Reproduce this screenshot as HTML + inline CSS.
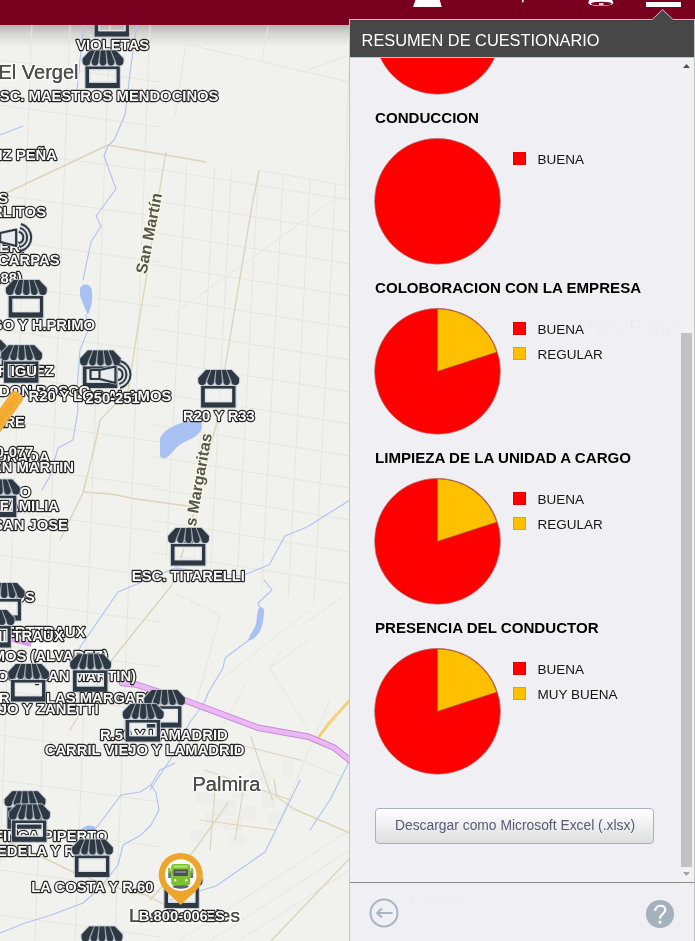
<!DOCTYPE html>
<html><head><meta charset="utf-8">
<style>
*{box-sizing:border-box;margin:0;padding:0}
html,body{width:695px;height:941px;overflow:hidden;background:#f1f1ed;font-family:"Liberation Sans",Arial,sans-serif}
#map,#topbar,#panel{will-change:transform}
#map{position:absolute;left:0;top:0;width:695px;height:941px;background:#f1f1ed;overflow:hidden}
#topbar{position:absolute;left:0;top:0;width:695px;height:25px;background:#7a001f}
#shadow{position:absolute;left:0;top:25px;width:349px;height:22px;background:linear-gradient(#b3b3af 0,#d6d6d2 40%,rgba(241,241,237,0) 100%)}
#panel{position:absolute;left:349px;top:19px;width:346px;height:922px;border:1px solid #b7cbce;border-bottom:none;background:#efeff4}
#phead{position:absolute;left:0;top:0;width:344px;height:37px;background:#474747;color:#fff;font-size:16.35px;line-height:38px;padding-left:11.6px;border-top:1px solid #3c3c3c}
#pline{position:absolute;left:0;top:37px;width:344px;height:1px;background:#b7cbce}
#pbody{position:absolute;left:0;top:38px;width:344px;height:824px;overflow:hidden;background:#efeff4}
#sb{position:absolute;left:329px;top:38px;width:15px;height:824px;background:#f1f1f1}
#thumb{position:absolute;left:2px;top:275px;width:11px;height:534px;background:#c1c1c1}
#sep{position:absolute;left:0;top:862px;width:344px;height:1px;background:#8c8c8c}
#foot{position:absolute;left:0;top:863px;width:344px;height:59px;background:#efeff4}
.sec{position:absolute;left:25px;width:300px}
.ttl{position:absolute;left:25px;font-weight:bold;font-size:15.1px;color:#000;white-space:nowrap;line-height:17px}
.lg{position:absolute;left:187.5px;font-size:13.5px;color:#151515;line-height:15px;white-space:nowrap}
.sq{position:absolute;left:-24.5px;top:0px;width:13px;height:13px;border:1px solid rgba(0,0,0,.12)}
#btn{position:absolute;left:25px;top:750px;width:279px;height:36px;border:1px solid #a6b2c4;border-radius:4px;background:linear-gradient(#ffffff,#dedede);color:#5a5a78;font-size:13.85px;line-height:33px;padding-left:19px;white-space:nowrap}
</style></head>
<body>
<div id="map">
<div id="shadow"></div>
<svg width="349" height="941" style="position:absolute;left:0;top:0"><filter id="soft" x="-5%" y="-5%" width="110%" height="110%"><feGaussianBlur stdDeviation="0.4"/></filter><g filter="url(#soft)"><path d="M186.668,165.0 L166.128,560.0" fill="none" stroke="#e6e6e0" stroke-width="1.0" stroke-linejoin="round" stroke-linecap="round" />
<path d="M214.49328,168.36 L193.6912,568.4" fill="none" stroke="#e6e6e0" stroke-width="1.0" stroke-linejoin="round" stroke-linecap="round" />
<path d="M231.3872,170.4 L210.426,573.5" fill="none" stroke="#e6e6e0" stroke-width="1.0" stroke-linejoin="round" stroke-linecap="round" />
<path d="M258.21872,173.64 L237.0048,581.6" fill="none" stroke="#e6e6e0" stroke-width="1.0" stroke-linejoin="round" stroke-linecap="round" />
<path d="M283.06272,176.64 L261.6148,589.1" fill="none" stroke="#e6e6e0" stroke-width="1.0" stroke-linejoin="round" stroke-linecap="round" />
<path d="M309.89424,179.88 L288.1936,597.2" fill="none" stroke="#e6e6e0" stroke-width="1.0" stroke-linejoin="round" stroke-linecap="round" />
<path d="M335.732,183.0 L313.788,605.0" fill="none" stroke="#e6e6e0" stroke-width="1.0" stroke-linejoin="round" stroke-linecap="round" />
<path d="M150,168 L350,200" fill="none" stroke="#e6e6e0" stroke-width="1.0" stroke-linejoin="round" stroke-linecap="round" />
<path d="M150,200 L350,232" fill="none" stroke="#e6e6e0" stroke-width="1.0" stroke-linejoin="round" stroke-linecap="round" />
<path d="M150,232 L350,264" fill="none" stroke="#e6e6e0" stroke-width="1.0" stroke-linejoin="round" stroke-linecap="round" />
<path d="M150,264 L350,296" fill="none" stroke="#e6e6e0" stroke-width="1.0" stroke-linejoin="round" stroke-linecap="round" />
<path d="M150,296 L350,328" fill="none" stroke="#e6e6e0" stroke-width="1.0" stroke-linejoin="round" stroke-linecap="round" />
<path d="M150,328 L350,360" fill="none" stroke="#e6e6e0" stroke-width="1.0" stroke-linejoin="round" stroke-linecap="round" />
<path d="M150,360 L350,392" fill="none" stroke="#e6e6e0" stroke-width="1.0" stroke-linejoin="round" stroke-linecap="round" />
<path d="M150,392 L350,424" fill="none" stroke="#e6e6e0" stroke-width="1.0" stroke-linejoin="round" stroke-linecap="round" />
<path d="M150,424 L350,456" fill="none" stroke="#e6e6e0" stroke-width="1.0" stroke-linejoin="round" stroke-linecap="round" />
<path d="M150,456 L350,488" fill="none" stroke="#e6e6e0" stroke-width="1.0" stroke-linejoin="round" stroke-linecap="round" />
<path d="M150,488 L350,520" fill="none" stroke="#e6e6e0" stroke-width="1.0" stroke-linejoin="round" stroke-linecap="round" />
<path d="M150,520 L350,552" fill="none" stroke="#e6e6e0" stroke-width="1.0" stroke-linejoin="round" stroke-linecap="round" />
<path d="M150,552 L350,584" fill="none" stroke="#e6e6e0" stroke-width="1.0" stroke-linejoin="round" stroke-linecap="round" />
<path d="M175,593 L220,615" fill="none" stroke="#e6e6e0" stroke-width="1.0" stroke-linejoin="round" stroke-linecap="round" />
<path d="M220,615 L197,700" fill="none" stroke="#e6e6e0" stroke-width="1.0" stroke-linejoin="round" stroke-linecap="round" />
<path d="M270,668 L308,640" fill="none" stroke="#e6e6e0" stroke-width="1.0" stroke-linejoin="round" stroke-linecap="round" />
<path d="M270,668 L282,650" fill="none" stroke="#e6e6e0" stroke-width="1.0" stroke-linejoin="round" stroke-linecap="round" />
<path d="M305,623 L341,598" fill="none" stroke="#e6e6e0" stroke-width="1.0" stroke-linejoin="round" stroke-linecap="round" />
<path d="M270,668 L308,730" fill="none" stroke="#e6e6e0" stroke-width="1.0" stroke-linejoin="round" stroke-linecap="round" />
<path d="M245,685 L215,740" fill="none" stroke="#e6e6e0" stroke-width="1.0" stroke-linejoin="round" stroke-linecap="round" />
<path d="M300,760 L350,780" fill="none" stroke="#e6e6e0" stroke-width="1.0" stroke-linejoin="round" stroke-linecap="round" />
<path d="M32,24 L-3,941" fill="none" stroke="#e6e6e0" stroke-width="1.0" stroke-linejoin="round" stroke-linecap="round" />
<path d="M70,24 L35,941" fill="none" stroke="#e6e6e0" stroke-width="1.0" stroke-linejoin="round" stroke-linecap="round" />
<path d="M110,24 L75,941" fill="none" stroke="#e6e6e0" stroke-width="1.0" stroke-linejoin="round" stroke-linecap="round" />
<path d="M150,24 L115,941" fill="none" stroke="#e6e6e0" stroke-width="1.0" stroke-linejoin="round" stroke-linecap="round" />
<path d="M0,60 L160,82" fill="none" stroke="#e6e6e0" stroke-width="1.0" stroke-linejoin="round" stroke-linecap="round" />
<path d="M0,105 L160,127" fill="none" stroke="#e6e6e0" stroke-width="1.0" stroke-linejoin="round" stroke-linecap="round" />
<path d="M0,150 L160,172" fill="none" stroke="#e6e6e0" stroke-width="1.0" stroke-linejoin="round" stroke-linecap="round" />
<path d="M0,195 L160,217" fill="none" stroke="#e6e6e0" stroke-width="1.0" stroke-linejoin="round" stroke-linecap="round" />
<path d="M0,240 L160,262" fill="none" stroke="#e6e6e0" stroke-width="1.0" stroke-linejoin="round" stroke-linecap="round" />
<path d="M0,285 L160,307" fill="none" stroke="#e6e6e0" stroke-width="1.0" stroke-linejoin="round" stroke-linecap="round" />
<path d="M0,330 L160,352" fill="none" stroke="#e6e6e0" stroke-width="1.0" stroke-linejoin="round" stroke-linecap="round" />
<path d="M0,375 L160,397" fill="none" stroke="#e6e6e0" stroke-width="1.0" stroke-linejoin="round" stroke-linecap="round" />
<path d="M0,420 L160,442" fill="none" stroke="#e6e6e0" stroke-width="1.0" stroke-linejoin="round" stroke-linecap="round" />
<path d="M0,465 L160,487" fill="none" stroke="#e6e6e0" stroke-width="1.0" stroke-linejoin="round" stroke-linecap="round" />
<path d="M0,510 L160,532" fill="none" stroke="#e6e6e0" stroke-width="1.0" stroke-linejoin="round" stroke-linecap="round" />
<path d="M0,555 L160,577" fill="none" stroke="#e6e6e0" stroke-width="1.0" stroke-linejoin="round" stroke-linecap="round" />
<path d="M0,600 L160,622" fill="none" stroke="#e6e6e0" stroke-width="1.0" stroke-linejoin="round" stroke-linecap="round" />
<path d="M0,645 L160,667" fill="none" stroke="#e6e6e0" stroke-width="1.0" stroke-linejoin="round" stroke-linecap="round" />
<path d="M0,690 L160,712" fill="none" stroke="#e6e6e0" stroke-width="1.0" stroke-linejoin="round" stroke-linecap="round" />
<path d="M0,735 L160,757" fill="none" stroke="#e6e6e0" stroke-width="1.0" stroke-linejoin="round" stroke-linecap="round" />
<path d="M0,780 L160,802" fill="none" stroke="#e6e6e0" stroke-width="1.0" stroke-linejoin="round" stroke-linecap="round" />
<path d="M0,825 L160,847" fill="none" stroke="#e6e6e0" stroke-width="1.0" stroke-linejoin="round" stroke-linecap="round" />
<path d="M0,870 L160,892" fill="none" stroke="#e6e6e0" stroke-width="1.0" stroke-linejoin="round" stroke-linecap="round" />
<path d="M0,915 L160,937" fill="none" stroke="#e6e6e0" stroke-width="1.0" stroke-linejoin="round" stroke-linecap="round" />
<path d="M186,44 L276,65 L349,82" fill="none" stroke="#e6e6e0" stroke-width="1.0" stroke-linejoin="round" stroke-linecap="round" />
<path d="M268,27 L262,60" fill="none" stroke="#e6e6e0" stroke-width="1.0" stroke-linejoin="round" stroke-linecap="round" />
<path d="M303,72 L349,55" fill="none" stroke="#e6e6e0" stroke-width="1.0" stroke-linejoin="round" stroke-linecap="round" />
<path d="M186,44 L175,116" fill="none" stroke="#e6e6e0" stroke-width="1.0" stroke-linejoin="round" stroke-linecap="round" />
<path d="M259,170 L336,184 L350,186" fill="none" stroke="#e6e6e0" stroke-width="1.0" stroke-linejoin="round" stroke-linecap="round" />
<path d="M349,60 L345,200" fill="none" stroke="#e6e6e0" stroke-width="1.0" stroke-linejoin="round" stroke-linecap="round" />
<path d="M333,200 L175,313" fill="none" stroke="#e6e6e0" stroke-width="1.0" stroke-linejoin="round" stroke-linecap="round" />
<path d="M220,680 L310,610" fill="none" stroke="#e6e6e0" stroke-width="1.0" stroke-linejoin="round" stroke-linecap="round" />
<path d="M280,820 L330,700" fill="none" stroke="#e6e6e0" stroke-width="1.0" stroke-linejoin="round" stroke-linecap="round" />
<path d="M240,940 L350,870" fill="none" stroke="#e6e6e0" stroke-width="1.0" stroke-linejoin="round" stroke-linecap="round" />
<path d="M180,940 L350,830" fill="none" stroke="#e6e6e0" stroke-width="1.0" stroke-linejoin="round" stroke-linecap="round" />
<path d="M210,941 L350,850" fill="none" stroke="#e6e6e0" stroke-width="1.0" stroke-linejoin="round" stroke-linecap="round" />
<path d="M0,196 L108,145 L206,162" fill="none" stroke="#ddd4ba" stroke-width="1.4" stroke-linejoin="round" stroke-linecap="round" />
<path d="M259,171 L253,200 L225,368 L218,385" fill="none" stroke="#ddd4ba" stroke-width="1.4" stroke-linejoin="round" stroke-linecap="round" />
<path d="M217,422 L188,536 L172,585 L111,661 L88,700 L70,730" fill="none" stroke="#ddd4ba" stroke-width="1.4" stroke-linejoin="round" stroke-linecap="round" />
<path d="M166,152 L158,200 L146,280 L137,333 L128,391 L100,420 L96,440 L83,493 L60,540" fill="none" stroke="#ddd4ba" stroke-width="1.4" stroke-linejoin="round" stroke-linecap="round" />
<path d="M83,492 L111,494 L136,499 L195,507" fill="none" stroke="#ddd4ba" stroke-width="1.4" stroke-linejoin="round" stroke-linecap="round" />
<path d="M274,780 L277,797 L294,809 L350,833" fill="none" stroke="#ddd4ba" stroke-width="1.4" stroke-linejoin="round" stroke-linecap="round" />
<path d="M228,803 L193,852 L150,900" fill="none" stroke="#ddd4ba" stroke-width="1.4" stroke-linejoin="round" stroke-linecap="round" />
<path d="M350,858 L271,941" fill="none" stroke="#ddd4ba" stroke-width="1.4" stroke-linejoin="round" stroke-linecap="round" />
<path d="M0,838 L38,855 L75,873 L110,886 L146,895 L165,905" fill="none" stroke="#ddd4ba" stroke-width="1.4" stroke-linejoin="round" stroke-linecap="round" />
<rect x="196" y="792" width="18" height="12" fill="#e2e2de" opacity=".25"/>
<rect x="214" y="800" width="22" height="16" fill="#e2e2de" opacity=".25"/>
<rect x="232" y="788" width="14" height="10" fill="#e2e2de" opacity=".25"/>
<rect x="205" y="812" width="16" height="14" fill="#e2e2de" opacity=".25"/>
<rect x="222" y="818" width="20" height="12" fill="#e2e2de" opacity=".25"/>
<rect x="240" y="806" width="16" height="14" fill="#e2e2de" opacity=".25"/>
<rect x="250" y="770" width="20" height="14" fill="#e2e2de" opacity=".25"/>
<rect x="262" y="790" width="14" height="18" fill="#e2e2de" opacity=".25"/>
<rect x="190" y="830" width="14" height="12" fill="#e2e2de" opacity=".25"/>
<rect x="230" y="835" width="16" height="10" fill="#e2e2de" opacity=".25"/>
<rect x="268" y="812" width="16" height="12" fill="#e2e2de" opacity=".25"/>
<rect x="282" y="760" width="12" height="16" fill="#e2e2de" opacity=".25"/>
<path d="M251,737 L262,770 L272.6,800" fill="none" stroke="#ddd4ba" stroke-width="1.2" stroke-linejoin="round" stroke-linecap="round" />
<path d="M240,745 L300,760" fill="none" stroke="#ddd4ba" stroke-width="1.2" stroke-linejoin="round" stroke-linecap="round" />
<path d="M205,770 L290,800" fill="none" stroke="#ddd4ba" stroke-width="1.2" stroke-linejoin="round" stroke-linecap="round" />
<path d="M215,790 L210,850" fill="none" stroke="#ddd4ba" stroke-width="1.2" stroke-linejoin="round" stroke-linecap="round" />
<path d="M245,780 L235,840" fill="none" stroke="#ddd4ba" stroke-width="1.2" stroke-linejoin="round" stroke-linecap="round" />
<path d="M200,820 L275,830" fill="none" stroke="#ddd4ba" stroke-width="1.2" stroke-linejoin="round" stroke-linecap="round" />
<path d="M315,742 L330,722 L350,700" fill="none" stroke="#f3d27a" stroke-width="3" stroke-linejoin="round" stroke-linecap="round" />
<path d="M137,24 L131,65 L125,115 L114,140 L108,146 L104,156 L116,189 L96,216 L101,226 L91,242 L83,280" fill="none" stroke="#afc4f2" stroke-width="1.15" stroke-linejoin="round" stroke-linecap="round" />
<path d="M86,315 L88,330 L80,350 L77,390 L78,410 L73,440 L58,448 L50,476 L42,490" fill="none" stroke="#afc4f2" stroke-width="1.15" stroke-linejoin="round" stroke-linecap="round" />
<path d="M84,24 L80,60 L76,100" fill="none" stroke="#afc4f2" stroke-width="1.15" stroke-linejoin="round" stroke-linecap="round" />
<path d="M0,135 L23,126" fill="none" stroke="#afc4f2" stroke-width="1.15" stroke-linejoin="round" stroke-linecap="round" />
<path d="M350,500 L307,527 L285,536 L269,565 L241,576 L175,568 L118,592 L83,643 L70,663" fill="none" stroke="#afc4f2" stroke-width="1.15" stroke-linejoin="round" stroke-linecap="round" />
<path d="M264,580 L272,590 L258,603 L260,608" fill="none" stroke="#afc4f2" stroke-width="1.15" stroke-linejoin="round" stroke-linecap="round" />
<path d="M249,640 L225,658 L223,668 L208,693 L205,701 L197,713 L190,722 L170,760 L150,790" fill="none" stroke="#afc4f2" stroke-width="1.15" stroke-linejoin="round" stroke-linecap="round" />
<path d="M300,780 L265,852 L216,886 L170,900" fill="none" stroke="#afc4f2" stroke-width="1.15" stroke-linejoin="round" stroke-linecap="round" />
<path d="M350,760 L330,800 L310,830" fill="none" stroke="#afc4f2" stroke-width="1.15" stroke-linejoin="round" stroke-linecap="round" />
<path d="M175,763 L160,770 L151,785 L140,792 L121,795 L106,815 L96,828" fill="none" stroke="#afc4f2" stroke-width="1.15" stroke-linejoin="round" stroke-linecap="round" />
<path d="M151,785 L156,793 L159,810 L151,825 L141,835 L123,845 L118,865 L100,888 L83,903 L50,915.5 L25,923 L0,933" fill="none" stroke="#afc4f2" stroke-width="1.15" stroke-linejoin="round" stroke-linecap="round" />
<path d="M80,288 C84,282 92,284 92,292 C93,300 91,308 88,315 C85,310 83,302 80,296 Z" fill="#a9c1f2"/>
<path d="M160,438 C165,428 178,424 190,420 C200,416 205,425 200,432 C194,440 184,440 176,448 C170,455 164,462 160,456 Z" fill="#a9c1f2"/>
<path d="M259,608 C262,606 265,608 264,614 C263,622 262,630 258,634 C255,638 251,641 248,640 C250,634 254,630 256,624 C257,618 257,612 259,608 Z" fill="#a9c1f2"/>
<path d="M81,830 C84,825 92,824 96,828 C94,832 88,834 82,834 Z" fill="#a9c1f2"/>
<path d="M14,640 L30,644" fill="none" stroke="#d9a0e6" stroke-width="5" stroke-linejoin="round" stroke-linecap="round" />
<path d="M122,683 L136,684.5 L186,700.7 L258,727.7 L308.6,736.7 L333.8,747.5 L352,762" fill="none" stroke="#c98ad8" stroke-width="6.5" stroke-linejoin="round" stroke-linecap="round" />
<path d="M122,683 L136,684.5 L186,700.7 L258,727.7 L308.6,736.7 L333.8,747.5 L352,762" fill="none" stroke="#ebb8f5" stroke-width="4.5" stroke-linejoin="round" stroke-linecap="round" />
<text x="-1.5" y="79" text-anchor="start" font-family="Liberation Sans, Arial, sans-serif" font-size="20" fill="#4d4d4d" stroke="#fff" stroke-width="3.2" stroke-opacity=".8" paint-order="stroke" stroke-linejoin="round">El Vergel</text><text x="-1.5" y="79" text-anchor="start" font-family="Liberation Sans, Arial, sans-serif" font-size="20" fill="#4d4d4d" stroke="#4d4d4d" stroke-width=".12">El Vergel</text>
<text x="192.5" y="790.5" text-anchor="start" font-family="Liberation Sans, Arial, sans-serif" font-size="20" fill="#4d4d4d" stroke="#fff" stroke-width="3.2" stroke-opacity=".8" paint-order="stroke" stroke-linejoin="round">Palmira</text><text x="192.5" y="790.5" text-anchor="start" font-family="Liberation Sans, Arial, sans-serif" font-size="20" fill="#4d4d4d" stroke="#4d4d4d" stroke-width=".12">Palmira</text>
<text x="0" y="0" transform="translate(146.5,274.5) rotate(-79)" font-family="Liberation Sans, Arial, sans-serif" font-size="16" font-weight="bold" fill="#575650" stroke="#fafae6" stroke-width="2.6" stroke-opacity=".9" paint-order="stroke" stroke-linejoin="round">San Martín</text>
<text x="0" y="0" transform="translate(192.4,545.5) rotate(-80)" font-family="Liberation Sans, Arial, sans-serif" font-size="16" font-weight="bold" fill="#575650" stroke="#fafae6" stroke-width="2.6" stroke-opacity=".9" paint-order="stroke" stroke-linejoin="round">Las Margaritas</text>
<text x="129" y="921.5" text-anchor="start" font-family="Liberation Sans, Arial, sans-serif" font-size="19" fill="#4d4d4d" stroke="#fff" stroke-width="3.2" stroke-opacity=".8" paint-order="stroke" stroke-linejoin="round">Los Barriales</text><text x="129" y="921.5" text-anchor="start" font-family="Liberation Sans, Arial, sans-serif" font-size="19" fill="#4d4d4d" stroke="#4d4d4d" stroke-width=".12">Los Barriales</text>
<rect x="31" y="643" width="27" height="8" fill="#fff"/>
<path d="M99.45,-1.00 L124.95,-1.00 L132.55,6.90 L132.55,10.00 L132.55,10.00 A4.15,4.00 0 0 1 124.25,10.00 L124.25,10.00 A4.02,4.00 0 0 1 116.20,10.00 L116.20,10.00 A4.00,4.00 0 0 1 108.20,10.00 L108.20,10.00 A4.03,4.00 0 0 1 100.15,10.00 L100.15,10.00 A4.15,4.00 0 0 1 91.85,10.00 L91.85,6.90 ZM94.65,15.10 L128.95,15.10 L128.95,36.40 L94.65,36.40 Z M98.35,17.70 L98.35,31.30 L125.65,31.30 L125.65,17.70 Z" fill="none" stroke="#b9c3cd" stroke-opacity=".8" stroke-width="2.2" stroke-linejoin="round"/><path d="M99.45,-1.00 L124.95,-1.00 L132.55,6.90 L132.55,10.00 L132.55,10.00 A4.15,4.00 0 0 1 124.25,10.00 L124.25,10.00 A4.02,4.00 0 0 1 116.20,10.00 L116.20,10.00 A4.00,4.00 0 0 1 108.20,10.00 L108.20,10.00 A4.03,4.00 0 0 1 100.15,10.00 L100.15,10.00 A4.15,4.00 0 0 1 91.85,10.00 L91.85,6.90 Z" fill="#9aa6b2"/><path d="M99.45,-1.00 L104.00,-1.00 L99.35,10.00 A3.75,4.00 0 0 1 91.85,10.00 L91.85,6.90 Z M104.90,-1.00 L109.00,-1.00 L107.40,10.00 A3.22,4.00 0 0 1 100.95,10.00 Z M109.90,-1.00 L114.50,-1.00 L115.40,10.00 A3.20,4.00 0 0 1 109.00,10.00 Z M115.40,-1.00 L119.50,-1.00 L123.45,10.00 A3.22,4.00 0 0 1 117.00,10.00 Z M120.40,-1.00 L124.95,-1.00 L132.55,6.90 L132.55,10.00 A3.75,4.00 0 0 1 125.05,10.00 Z " fill="#2e3742"/><path d="M94.65,15.10 L128.95,15.10 L128.95,36.40 L94.65,36.40 Z M98.35,17.70 L98.35,31.30 L125.65,31.30 L125.65,17.70 Z" fill="#2e3742" fill-rule="evenodd"/><path d="M99.05,18.40 L99.05,30.60 L124.95,30.60 L124.95,18.40 Z" fill="none" stroke="#dfe5ea" stroke-width="1.2"/>
<text x="112.6" y="50" text-anchor="middle" font-family="Liberation Sans, Arial, sans-serif" font-weight="bold" font-size="14.8" fill="#fafafa" stroke="#242424" stroke-width="2.3" paint-order="stroke" stroke-linejoin="round">VIOLETAS</text>
<path d="M90.25,50.50 L115.75,50.50 L123.35,58.40 L123.35,61.50 L123.35,61.50 A4.15,4.00 0 0 1 115.05,61.50 L115.05,61.50 A4.02,4.00 0 0 1 107.00,61.50 L107.00,61.50 A4.00,4.00 0 0 1 99.00,61.50 L99.00,61.50 A4.03,4.00 0 0 1 90.95,61.50 L90.95,61.50 A4.15,4.00 0 0 1 82.65,61.50 L82.65,58.40 ZM85.45,66.60 L119.75,66.60 L119.75,87.90 L85.45,87.90 Z M89.15,69.20 L89.15,82.80 L116.45,82.80 L116.45,69.20 Z" fill="none" stroke="#b9c3cd" stroke-opacity=".8" stroke-width="2.2" stroke-linejoin="round"/><path d="M90.25,50.50 L115.75,50.50 L123.35,58.40 L123.35,61.50 L123.35,61.50 A4.15,4.00 0 0 1 115.05,61.50 L115.05,61.50 A4.02,4.00 0 0 1 107.00,61.50 L107.00,61.50 A4.00,4.00 0 0 1 99.00,61.50 L99.00,61.50 A4.03,4.00 0 0 1 90.95,61.50 L90.95,61.50 A4.15,4.00 0 0 1 82.65,61.50 L82.65,58.40 Z" fill="#9aa6b2"/><path d="M90.25,50.50 L94.80,50.50 L90.15,61.50 A3.75,4.00 0 0 1 82.65,61.50 L82.65,58.40 Z M95.70,50.50 L99.80,50.50 L98.20,61.50 A3.22,4.00 0 0 1 91.75,61.50 Z M100.70,50.50 L105.30,50.50 L106.20,61.50 A3.20,4.00 0 0 1 99.80,61.50 Z M106.20,50.50 L110.30,50.50 L114.25,61.50 A3.22,4.00 0 0 1 107.80,61.50 Z M111.20,50.50 L115.75,50.50 L123.35,58.40 L123.35,61.50 A3.75,4.00 0 0 1 115.85,61.50 Z " fill="#2e3742"/><path d="M85.45,66.60 L119.75,66.60 L119.75,87.90 L85.45,87.90 Z M89.15,69.20 L89.15,82.80 L116.45,82.80 L116.45,69.20 Z" fill="#2e3742" fill-rule="evenodd"/><path d="M89.85,69.90 L89.85,82.10 L115.75,82.10 L115.75,69.90 Z" fill="none" stroke="#dfe5ea" stroke-width="1.2"/>
<text x="218.5" y="101.2" text-anchor="end" font-family="Liberation Sans, Arial, sans-serif" font-weight="bold" font-size="14.8" fill="#fafafa" stroke="#242424" stroke-width="2.3" paint-order="stroke" stroke-linejoin="round">ESC. MAESTROS MENDOCINOS</text>
<text x="57" y="160" text-anchor="end" font-family="Liberation Sans, Arial, sans-serif" font-weight="bold" font-size="14.8" fill="#fafafa" stroke="#242424" stroke-width="2.3" paint-order="stroke" stroke-linejoin="round">RUIZ PEÑA</text>
<text x="8" y="203" text-anchor="end" font-family="Liberation Sans, Arial, sans-serif" font-weight="bold" font-size="14.8" fill="#fafafa" stroke="#242424" stroke-width="2.3" paint-order="stroke" stroke-linejoin="round">ELS</text>
<text x="46" y="217.3" text-anchor="end" font-family="Liberation Sans, Arial, sans-serif" font-weight="bold" font-size="14.8" fill="#fafafa" stroke="#242424" stroke-width="2.3" paint-order="stroke" stroke-linejoin="round">CARLITOS</text>
<text x="24" y="252" text-anchor="end" font-family="Liberation Sans, Arial, sans-serif" font-weight="bold" font-size="14.8" fill="#fafafa" stroke="#242424" stroke-width="2.3" paint-order="stroke" stroke-linejoin="round">ER.</text>
<path d="M-8.8,233.0 H0.2 L16.2,229.5 V246.0 L0.2,242.0 H-8.8 Z" fill="#e9ecef" stroke="#cfd6dc" stroke-width="3.2" stroke-linejoin="round"/><path d="M-8.8,233.0 H0.2 L16.2,229.5 V246.0 L0.2,242.0 H-8.8 Z M0.2,233.0 V242.0" fill="none" stroke="#2e3742" stroke-width="2.2" stroke-linejoin="round"/><path d="M18.8,231.7 A6.0,6.0 0 0 1 18.8,243.3" fill="none" stroke="#cfd6dc" stroke-width="3.4"/><path d="M18.8,231.7 A6.0,6.0 0 0 1 18.8,243.3" fill="none" stroke="#2e3742" stroke-width="2"/><path d="M19.9,227.9 A10.0,10.0 0 0 1 19.9,247.1" fill="none" stroke="#cfd6dc" stroke-width="3.4"/><path d="M19.9,227.9 A10.0,10.0 0 0 1 19.9,247.1" fill="none" stroke="#2e3742" stroke-width="2"/><path d="M20.9,224.0 A14.0,14.0 0 0 1 20.9,251.0" fill="none" stroke="#cfd6dc" stroke-width="3.4"/><path d="M20.9,224.0 A14.0,14.0 0 0 1 20.9,251.0" fill="none" stroke="#2e3742" stroke-width="2"/>
<text x="59.5" y="265.4" text-anchor="end" font-family="Liberation Sans, Arial, sans-serif" font-weight="bold" font-size="14.8" fill="#fafafa" stroke="#242424" stroke-width="2.3" paint-order="stroke" stroke-linejoin="round">LAS CARPAS</text>
<text x="22" y="283" text-anchor="end" font-family="Liberation Sans, Arial, sans-serif" font-weight="bold" font-size="14.8" fill="#fafafa" stroke="#242424" stroke-width="2.3" paint-order="stroke" stroke-linejoin="round">(188)</text>
<path d="M13.55,280.00 L39.05,280.00 L46.65,287.90 L46.65,291.00 L46.65,291.00 A4.15,4.00 0 0 1 38.35,291.00 L38.35,291.00 A4.02,4.00 0 0 1 30.30,291.00 L30.30,291.00 A4.00,4.00 0 0 1 22.30,291.00 L22.30,291.00 A4.03,4.00 0 0 1 14.25,291.00 L14.25,291.00 A4.15,4.00 0 0 1 5.95,291.00 L5.95,287.90 ZM8.75,296.10 L43.05,296.10 L43.05,317.40 L8.75,317.40 Z M12.45,298.70 L12.45,312.30 L39.75,312.30 L39.75,298.70 Z" fill="none" stroke="#b9c3cd" stroke-opacity=".8" stroke-width="2.2" stroke-linejoin="round"/><path d="M13.55,280.00 L39.05,280.00 L46.65,287.90 L46.65,291.00 L46.65,291.00 A4.15,4.00 0 0 1 38.35,291.00 L38.35,291.00 A4.02,4.00 0 0 1 30.30,291.00 L30.30,291.00 A4.00,4.00 0 0 1 22.30,291.00 L22.30,291.00 A4.03,4.00 0 0 1 14.25,291.00 L14.25,291.00 A4.15,4.00 0 0 1 5.95,291.00 L5.95,287.90 Z" fill="#9aa6b2"/><path d="M13.55,280.00 L18.10,280.00 L13.45,291.00 A3.75,4.00 0 0 1 5.95,291.00 L5.95,287.90 Z M19.00,280.00 L23.10,280.00 L21.50,291.00 A3.22,4.00 0 0 1 15.05,291.00 Z M24.00,280.00 L28.60,280.00 L29.50,291.00 A3.20,4.00 0 0 1 23.10,291.00 Z M29.50,280.00 L33.60,280.00 L37.55,291.00 A3.22,4.00 0 0 1 31.10,291.00 Z M34.50,280.00 L39.05,280.00 L46.65,287.90 L46.65,291.00 A3.75,4.00 0 0 1 39.15,291.00 Z " fill="#2e3742"/><path d="M8.75,296.10 L43.05,296.10 L43.05,317.40 L8.75,317.40 Z M12.45,298.70 L12.45,312.30 L39.75,312.30 L39.75,298.70 Z" fill="#2e3742" fill-rule="evenodd"/><path d="M13.15,299.40 L13.15,311.60 L39.05,311.60 L39.05,299.40 Z" fill="none" stroke="#dfe5ea" stroke-width="1.2"/>
<text x="95" y="330" text-anchor="end" font-family="Liberation Sans, Arial, sans-serif" font-weight="bold" font-size="14.8" fill="#fafafa" stroke="#242424" stroke-width="2.3" paint-order="stroke" stroke-linejoin="round">DIEGO Y H.PRIMO</text>
<path d="M-24.75,340.00 L0.75,340.00 L8.35,347.90 L8.35,351.00 L8.35,351.00 A4.15,4.00 0 0 1 0.05,351.00 L0.05,351.00 A4.02,4.00 0 0 1 -8.00,351.00 L-8.00,351.00 A4.00,4.00 0 0 1 -16.00,351.00 L-16.00,351.00 A4.03,4.00 0 0 1 -24.05,351.00 L-24.05,351.00 A4.15,4.00 0 0 1 -32.35,351.00 L-32.35,347.90 ZM-29.55,356.10 L4.75,356.10 L4.75,377.40 L-29.55,377.40 Z M-25.85,358.70 L-25.85,372.30 L1.45,372.30 L1.45,358.70 Z" fill="none" stroke="#b9c3cd" stroke-opacity=".8" stroke-width="2.2" stroke-linejoin="round"/><path d="M-24.75,340.00 L0.75,340.00 L8.35,347.90 L8.35,351.00 L8.35,351.00 A4.15,4.00 0 0 1 0.05,351.00 L0.05,351.00 A4.02,4.00 0 0 1 -8.00,351.00 L-8.00,351.00 A4.00,4.00 0 0 1 -16.00,351.00 L-16.00,351.00 A4.03,4.00 0 0 1 -24.05,351.00 L-24.05,351.00 A4.15,4.00 0 0 1 -32.35,351.00 L-32.35,347.90 Z" fill="#9aa6b2"/><path d="M-24.75,340.00 L-20.20,340.00 L-24.85,351.00 A3.75,4.00 0 0 1 -32.35,351.00 L-32.35,347.90 Z M-19.30,340.00 L-15.20,340.00 L-16.80,351.00 A3.22,4.00 0 0 1 -23.25,351.00 Z M-14.30,340.00 L-9.70,340.00 L-8.80,351.00 A3.20,4.00 0 0 1 -15.20,351.00 Z M-8.80,340.00 L-4.70,340.00 L-0.75,351.00 A3.22,4.00 0 0 1 -7.20,351.00 Z M-3.80,340.00 L0.75,340.00 L8.35,347.90 L8.35,351.00 A3.75,4.00 0 0 1 0.85,351.00 Z " fill="#2e3742"/><path d="M-29.55,356.10 L4.75,356.10 L4.75,377.40 L-29.55,377.40 Z M-25.85,358.70 L-25.85,372.30 L1.45,372.30 L1.45,358.70 Z" fill="#2e3742" fill-rule="evenodd"/><path d="M-25.15,359.40 L-25.15,371.60 L0.75,371.60 L0.75,359.40 Z" fill="none" stroke="#dfe5ea" stroke-width="1.2"/>
<text x="54" y="375.5" text-anchor="end" font-family="Liberation Sans, Arial, sans-serif" font-weight="bold" font-size="14.8" fill="#fafafa" stroke="#242424" stroke-width="2.3" paint-order="stroke" stroke-linejoin="round">RODRIGUEZ</text>
<path d="M8.85,345.30 L34.35,345.30 L41.95,353.20 L41.95,356.30 L41.95,356.30 A4.15,4.00 0 0 1 33.65,356.30 L33.65,356.30 A4.02,4.00 0 0 1 25.60,356.30 L25.60,356.30 A4.00,4.00 0 0 1 17.60,356.30 L17.60,356.30 A4.03,4.00 0 0 1 9.55,356.30 L9.55,356.30 A4.15,4.00 0 0 1 1.25,356.30 L1.25,353.20 ZM4.05,361.40 L38.35,361.40 L38.35,382.70 L4.05,382.70 Z M7.75,364.00 L7.75,377.60 L35.05,377.60 L35.05,364.00 Z" fill="none" stroke="#b9c3cd" stroke-opacity=".8" stroke-width="2.2" stroke-linejoin="round"/><path d="M8.85,345.30 L34.35,345.30 L41.95,353.20 L41.95,356.30 L41.95,356.30 A4.15,4.00 0 0 1 33.65,356.30 L33.65,356.30 A4.02,4.00 0 0 1 25.60,356.30 L25.60,356.30 A4.00,4.00 0 0 1 17.60,356.30 L17.60,356.30 A4.03,4.00 0 0 1 9.55,356.30 L9.55,356.30 A4.15,4.00 0 0 1 1.25,356.30 L1.25,353.20 Z" fill="#9aa6b2"/><path d="M8.85,345.30 L13.40,345.30 L8.75,356.30 A3.75,4.00 0 0 1 1.25,356.30 L1.25,353.20 Z M14.30,345.30 L18.40,345.30 L16.80,356.30 A3.22,4.00 0 0 1 10.35,356.30 Z M19.30,345.30 L23.90,345.30 L24.80,356.30 A3.20,4.00 0 0 1 18.40,356.30 Z M24.80,345.30 L28.90,345.30 L32.85,356.30 A3.22,4.00 0 0 1 26.40,356.30 Z M29.80,345.30 L34.35,345.30 L41.95,353.20 L41.95,356.30 A3.75,4.00 0 0 1 34.45,356.30 Z " fill="#2e3742"/><path d="M4.05,361.40 L38.35,361.40 L38.35,382.70 L4.05,382.70 Z M7.75,364.00 L7.75,377.60 L35.05,377.60 L35.05,364.00 Z" fill="#2e3742" fill-rule="evenodd"/><path d="M8.45,364.70 L8.45,376.90 L34.35,376.90 L34.35,364.70 Z" fill="none" stroke="#dfe5ea" stroke-width="1.2"/>
<text x="37" y="375.5" text-anchor="end" font-family="Liberation Sans, Arial, sans-serif" font-weight="bold" font-size="14.8" fill="#fafafa" stroke="#242424" stroke-width="2.3" paint-order="stroke" stroke-linejoin="round">IGU</text>
<path d="M87.75,350.50 L113.25,350.50 L120.85,358.40 L120.85,361.50 L120.85,361.50 A4.15,4.00 0 0 1 112.55,361.50 L112.55,361.50 A4.02,4.00 0 0 1 104.50,361.50 L104.50,361.50 A4.00,4.00 0 0 1 96.50,361.50 L96.50,361.50 A4.03,4.00 0 0 1 88.45,361.50 L88.45,361.50 A4.15,4.00 0 0 1 80.15,361.50 L80.15,358.40 ZM82.95,366.60 L117.25,366.60 L117.25,387.90 L82.95,387.90 Z M86.65,369.20 L86.65,382.80 L113.95,382.80 L113.95,369.20 Z" fill="none" stroke="#b9c3cd" stroke-opacity=".8" stroke-width="2.2" stroke-linejoin="round"/><path d="M87.75,350.50 L113.25,350.50 L120.85,358.40 L120.85,361.50 L120.85,361.50 A4.15,4.00 0 0 1 112.55,361.50 L112.55,361.50 A4.02,4.00 0 0 1 104.50,361.50 L104.50,361.50 A4.00,4.00 0 0 1 96.50,361.50 L96.50,361.50 A4.03,4.00 0 0 1 88.45,361.50 L88.45,361.50 A4.15,4.00 0 0 1 80.15,361.50 L80.15,358.40 Z" fill="#9aa6b2"/><path d="M87.75,350.50 L92.30,350.50 L87.65,361.50 A3.75,4.00 0 0 1 80.15,361.50 L80.15,358.40 Z M93.20,350.50 L97.30,350.50 L95.70,361.50 A3.22,4.00 0 0 1 89.25,361.50 Z M98.20,350.50 L102.80,350.50 L103.70,361.50 A3.20,4.00 0 0 1 97.30,361.50 Z M103.70,350.50 L107.80,350.50 L111.75,361.50 A3.22,4.00 0 0 1 105.30,361.50 Z M108.70,350.50 L113.25,350.50 L120.85,358.40 L120.85,361.50 A3.75,4.00 0 0 1 113.35,361.50 Z " fill="#2e3742"/><path d="M82.95,366.60 L117.25,366.60 L117.25,387.90 L82.95,387.90 Z M86.65,369.20 L86.65,382.80 L113.95,382.80 L113.95,369.20 Z" fill="#2e3742" fill-rule="evenodd"/><path d="M87.35,369.90 L87.35,382.10 L113.25,382.10 L113.25,369.90 Z" fill="none" stroke="#dfe5ea" stroke-width="1.2"/>
<path d="M90.5,370.0 H99.5 L115.5,366.5 V383.0 L99.5,379.0 H90.5 Z" fill="#e9ecef" stroke="#cfd6dc" stroke-width="3.2" stroke-linejoin="round"/><path d="M90.5,370.0 H99.5 L115.5,366.5 V383.0 L99.5,379.0 H90.5 Z M99.5,370.0 V379.0" fill="none" stroke="#2e3742" stroke-width="2.2" stroke-linejoin="round"/><path d="M118.1,368.7 A6.0,6.0 0 0 1 118.1,380.3" fill="none" stroke="#cfd6dc" stroke-width="3.4"/><path d="M118.1,368.7 A6.0,6.0 0 0 1 118.1,380.3" fill="none" stroke="#2e3742" stroke-width="2"/><path d="M119.2,364.9 A10.0,10.0 0 0 1 119.2,384.1" fill="none" stroke="#cfd6dc" stroke-width="3.4"/><path d="M119.2,364.9 A10.0,10.0 0 0 1 119.2,384.1" fill="none" stroke="#2e3742" stroke-width="2"/><path d="M120.2,361.0 A14.0,14.0 0 0 1 120.2,388.0" fill="none" stroke="#cfd6dc" stroke-width="3.4"/><path d="M120.2,361.0 A14.0,14.0 0 0 1 120.2,388.0" fill="none" stroke="#2e3742" stroke-width="2"/>
<text x="-1" y="395.5" text-anchor="start" font-family="Liberation Sans, Arial, sans-serif" font-weight="bold" font-size="14.8" fill="#fafafa" stroke="#242424" stroke-width="2.3" paint-order="stroke" stroke-linejoin="round">DON BOSCO</text>
<text x="28.5" y="401" text-anchor="start" font-family="Liberation Sans, Arial, sans-serif" font-weight="bold" font-size="14.8" fill="#fafafa" stroke="#242424" stroke-width="2.3" paint-order="stroke" stroke-linejoin="round">R20 Y LOS ALAMOS</text>
<text x="85.5" y="402.5" text-anchor="start" font-family="Liberation Sans, Arial, sans-serif" font-weight="bold" font-size="14.8" fill="#fafafa" stroke="#242424" stroke-width="2.3" paint-order="stroke" stroke-linejoin="round">250-251</text>
<path d="M205.95,370.00 L231.45,370.00 L239.05,377.90 L239.05,381.00 L239.05,381.00 A4.15,4.00 0 0 1 230.75,381.00 L230.75,381.00 A4.02,4.00 0 0 1 222.70,381.00 L222.70,381.00 A4.00,4.00 0 0 1 214.70,381.00 L214.70,381.00 A4.03,4.00 0 0 1 206.65,381.00 L206.65,381.00 A4.15,4.00 0 0 1 198.35,381.00 L198.35,377.90 ZM201.15,386.10 L235.45,386.10 L235.45,407.40 L201.15,407.40 Z M204.85,388.70 L204.85,402.30 L232.15,402.30 L232.15,388.70 Z" fill="none" stroke="#b9c3cd" stroke-opacity=".8" stroke-width="2.2" stroke-linejoin="round"/><path d="M205.95,370.00 L231.45,370.00 L239.05,377.90 L239.05,381.00 L239.05,381.00 A4.15,4.00 0 0 1 230.75,381.00 L230.75,381.00 A4.02,4.00 0 0 1 222.70,381.00 L222.70,381.00 A4.00,4.00 0 0 1 214.70,381.00 L214.70,381.00 A4.03,4.00 0 0 1 206.65,381.00 L206.65,381.00 A4.15,4.00 0 0 1 198.35,381.00 L198.35,377.90 Z" fill="#9aa6b2"/><path d="M205.95,370.00 L210.50,370.00 L205.85,381.00 A3.75,4.00 0 0 1 198.35,381.00 L198.35,377.90 Z M211.40,370.00 L215.50,370.00 L213.90,381.00 A3.22,4.00 0 0 1 207.45,381.00 Z M216.40,370.00 L221.00,370.00 L221.90,381.00 A3.20,4.00 0 0 1 215.50,381.00 Z M221.90,370.00 L226.00,370.00 L229.95,381.00 A3.22,4.00 0 0 1 223.50,381.00 Z M226.90,370.00 L231.45,370.00 L239.05,377.90 L239.05,381.00 A3.75,4.00 0 0 1 231.55,381.00 Z " fill="#2e3742"/><path d="M201.15,386.10 L235.45,386.10 L235.45,407.40 L201.15,407.40 Z M204.85,388.70 L204.85,402.30 L232.15,402.30 L232.15,388.70 Z" fill="#2e3742" fill-rule="evenodd"/><path d="M205.55,389.40 L205.55,401.60 L231.45,401.60 L231.45,389.40 Z" fill="none" stroke="#dfe5ea" stroke-width="1.2"/>
<text x="218.9" y="421" text-anchor="middle" font-family="Liberation Sans, Arial, sans-serif" font-weight="bold" font-size="14.8" fill="#fafafa" stroke="#242424" stroke-width="2.3" paint-order="stroke" stroke-linejoin="round">R20 Y R33</text>
<text x="25" y="426.5" text-anchor="end" font-family="Liberation Sans, Arial, sans-serif" font-weight="bold" font-size="14.8" fill="#fafafa" stroke="#242424" stroke-width="2.3" paint-order="stroke" stroke-linejoin="round">TORRE</text>
<g transform="translate(18.6,394.2) rotate(125.5)"><rect x="-1" y="-6.9" width="60" height="13.8" rx="4.5" fill="#f2a92f"/><rect x="1.5" y="-4.6" width="60" height="9.2" rx="3" fill="none" stroke="#fff" stroke-width=".6" stroke-dasharray="1.5 2" stroke-opacity=".7"/></g>
<text x="49.6" y="462" text-anchor="end" font-family="Liberation Sans, Arial, sans-serif" font-weight="bold" font-size="14.8" fill="#fafafa" stroke="#242424" stroke-width="2.3" paint-order="stroke" stroke-linejoin="round">LA ALBORADA</text>
<text x="33.5" y="457" text-anchor="end" font-family="Liberation Sans, Arial, sans-serif" font-weight="bold" font-size="14.8" fill="#fafafa" stroke="#242424" stroke-width="2.3" paint-order="stroke" stroke-linejoin="round">B.100-077</text>
<text x="74" y="472.2" text-anchor="end" font-family="Liberation Sans, Arial, sans-serif" font-weight="bold" font-size="14.8" fill="#fafafa" stroke="#242424" stroke-width="2.3" paint-order="stroke" stroke-linejoin="round">CARMEN MARTIN</text>
<text x="31" y="497" text-anchor="end" font-family="Liberation Sans, Arial, sans-serif" font-weight="bold" font-size="14.8" fill="#fafafa" stroke="#242424" stroke-width="2.3" paint-order="stroke" stroke-linejoin="round">O</text>
<text x="59" y="511" text-anchor="end" font-family="Liberation Sans, Arial, sans-serif" font-weight="bold" font-size="14.8" fill="#fafafa" stroke="#242424" stroke-width="2.3" paint-order="stroke" stroke-linejoin="round">SAGRADA FAMILIA</text>
<path d="M-13.25,479.60 L12.25,479.60 L19.85,487.50 L19.85,490.60 L19.85,490.60 A4.15,4.00 0 0 1 11.55,490.60 L11.55,490.60 A4.02,4.00 0 0 1 3.50,490.60 L3.50,490.60 A4.00,4.00 0 0 1 -4.50,490.60 L-4.50,490.60 A4.03,4.00 0 0 1 -12.55,490.60 L-12.55,490.60 A4.15,4.00 0 0 1 -20.85,490.60 L-20.85,487.50 ZM-18.05,495.70 L16.25,495.70 L16.25,517.00 L-18.05,517.00 Z M-14.35,498.30 L-14.35,511.90 L12.95,511.90 L12.95,498.30 Z" fill="none" stroke="#b9c3cd" stroke-opacity=".8" stroke-width="2.2" stroke-linejoin="round"/><path d="M-13.25,479.60 L12.25,479.60 L19.85,487.50 L19.85,490.60 L19.85,490.60 A4.15,4.00 0 0 1 11.55,490.60 L11.55,490.60 A4.02,4.00 0 0 1 3.50,490.60 L3.50,490.60 A4.00,4.00 0 0 1 -4.50,490.60 L-4.50,490.60 A4.03,4.00 0 0 1 -12.55,490.60 L-12.55,490.60 A4.15,4.00 0 0 1 -20.85,490.60 L-20.85,487.50 Z" fill="#9aa6b2"/><path d="M-13.25,479.60 L-8.70,479.60 L-13.35,490.60 A3.75,4.00 0 0 1 -20.85,490.60 L-20.85,487.50 Z M-7.80,479.60 L-3.70,479.60 L-5.30,490.60 A3.22,4.00 0 0 1 -11.75,490.60 Z M-2.80,479.60 L1.80,479.60 L2.70,490.60 A3.20,4.00 0 0 1 -3.70,490.60 Z M2.70,479.60 L6.80,479.60 L10.75,490.60 A3.22,4.00 0 0 1 4.30,490.60 Z M7.70,479.60 L12.25,479.60 L19.85,487.50 L19.85,490.60 A3.75,4.00 0 0 1 12.35,490.60 Z " fill="#2e3742"/><path d="M-18.05,495.70 L16.25,495.70 L16.25,517.00 L-18.05,517.00 Z M-14.35,498.30 L-14.35,511.90 L12.95,511.90 L12.95,498.30 Z" fill="#2e3742" fill-rule="evenodd"/><path d="M-13.65,499.00 L-13.65,511.20 L12.25,511.20 L12.25,499.00 Z" fill="none" stroke="#dfe5ea" stroke-width="1.2"/>
<text x="68" y="530.4" text-anchor="end" font-family="Liberation Sans, Arial, sans-serif" font-weight="bold" font-size="14.8" fill="#fafafa" stroke="#242424" stroke-width="2.3" paint-order="stroke" stroke-linejoin="round">SAN JOSE</text>
<path d="M175.75,528.00 L201.25,528.00 L208.85,535.90 L208.85,539.00 L208.85,539.00 A4.15,4.00 0 0 1 200.55,539.00 L200.55,539.00 A4.02,4.00 0 0 1 192.50,539.00 L192.50,539.00 A4.00,4.00 0 0 1 184.50,539.00 L184.50,539.00 A4.03,4.00 0 0 1 176.45,539.00 L176.45,539.00 A4.15,4.00 0 0 1 168.15,539.00 L168.15,535.90 ZM170.95,544.10 L205.25,544.10 L205.25,565.40 L170.95,565.40 Z M174.65,546.70 L174.65,560.30 L201.95,560.30 L201.95,546.70 Z" fill="none" stroke="#b9c3cd" stroke-opacity=".8" stroke-width="2.2" stroke-linejoin="round"/><path d="M175.75,528.00 L201.25,528.00 L208.85,535.90 L208.85,539.00 L208.85,539.00 A4.15,4.00 0 0 1 200.55,539.00 L200.55,539.00 A4.02,4.00 0 0 1 192.50,539.00 L192.50,539.00 A4.00,4.00 0 0 1 184.50,539.00 L184.50,539.00 A4.03,4.00 0 0 1 176.45,539.00 L176.45,539.00 A4.15,4.00 0 0 1 168.15,539.00 L168.15,535.90 Z" fill="#9aa6b2"/><path d="M175.75,528.00 L180.30,528.00 L175.65,539.00 A3.75,4.00 0 0 1 168.15,539.00 L168.15,535.90 Z M181.20,528.00 L185.30,528.00 L183.70,539.00 A3.22,4.00 0 0 1 177.25,539.00 Z M186.20,528.00 L190.80,528.00 L191.70,539.00 A3.20,4.00 0 0 1 185.30,539.00 Z M191.70,528.00 L195.80,528.00 L199.75,539.00 A3.22,4.00 0 0 1 193.30,539.00 Z M196.70,528.00 L201.25,528.00 L208.85,535.90 L208.85,539.00 A3.75,4.00 0 0 1 201.35,539.00 Z " fill="#2e3742"/><path d="M170.95,544.10 L205.25,544.10 L205.25,565.40 L170.95,565.40 Z M174.65,546.70 L174.65,560.30 L201.95,560.30 L201.95,546.70 Z" fill="#2e3742" fill-rule="evenodd"/><path d="M175.35,547.40 L175.35,559.60 L201.25,559.60 L201.25,547.40 Z" fill="none" stroke="#dfe5ea" stroke-width="1.2"/>
<text x="188.4" y="580.5" text-anchor="middle" font-family="Liberation Sans, Arial, sans-serif" font-weight="bold" font-size="14.8" fill="#fafafa" stroke="#242424" stroke-width="2.3" paint-order="stroke" stroke-linejoin="round">ESC. TITARELLI</text>
<text x="35" y="602" text-anchor="end" font-family="Liberation Sans, Arial, sans-serif" font-weight="bold" font-size="14.8" fill="#fafafa" stroke="#242424" stroke-width="2.3" paint-order="stroke" stroke-linejoin="round">OS</text>
<path d="M-8.55,583.00 L16.95,583.00 L24.55,590.90 L24.55,594.00 L24.55,594.00 A4.15,4.00 0 0 1 16.25,594.00 L16.25,594.00 A4.02,4.00 0 0 1 8.20,594.00 L8.20,594.00 A4.00,4.00 0 0 1 0.20,594.00 L0.20,594.00 A4.03,4.00 0 0 1 -7.85,594.00 L-7.85,594.00 A4.15,4.00 0 0 1 -16.15,594.00 L-16.15,590.90 ZM-13.35,599.10 L20.95,599.10 L20.95,620.40 L-13.35,620.40 Z M-9.65,601.70 L-9.65,615.30 L17.65,615.30 L17.65,601.70 Z" fill="none" stroke="#b9c3cd" stroke-opacity=".8" stroke-width="2.2" stroke-linejoin="round"/><path d="M-8.55,583.00 L16.95,583.00 L24.55,590.90 L24.55,594.00 L24.55,594.00 A4.15,4.00 0 0 1 16.25,594.00 L16.25,594.00 A4.02,4.00 0 0 1 8.20,594.00 L8.20,594.00 A4.00,4.00 0 0 1 0.20,594.00 L0.20,594.00 A4.03,4.00 0 0 1 -7.85,594.00 L-7.85,594.00 A4.15,4.00 0 0 1 -16.15,594.00 L-16.15,590.90 Z" fill="#9aa6b2"/><path d="M-8.55,583.00 L-4.00,583.00 L-8.65,594.00 A3.75,4.00 0 0 1 -16.15,594.00 L-16.15,590.90 Z M-3.10,583.00 L1.00,583.00 L-0.60,594.00 A3.22,4.00 0 0 1 -7.05,594.00 Z M1.90,583.00 L6.50,583.00 L7.40,594.00 A3.20,4.00 0 0 1 1.00,594.00 Z M7.40,583.00 L11.50,583.00 L15.45,594.00 A3.22,4.00 0 0 1 9.00,594.00 Z M12.40,583.00 L16.95,583.00 L24.55,590.90 L24.55,594.00 A3.75,4.00 0 0 1 17.05,594.00 Z " fill="#2e3742"/><path d="M-13.35,599.10 L20.95,599.10 L20.95,620.40 L-13.35,620.40 Z M-9.65,601.70 L-9.65,615.30 L17.65,615.30 L17.65,601.70 Z" fill="#2e3742" fill-rule="evenodd"/><path d="M-8.95,602.40 L-8.95,614.60 L16.95,614.60 L16.95,602.40 Z" fill="none" stroke="#dfe5ea" stroke-width="1.2"/>
<text x="85.5" y="636.6" text-anchor="end" font-family="Liberation Sans, Arial, sans-serif" font-weight="bold" font-size="14.8" fill="#fafafa" stroke="#242424" stroke-width="2.3" paint-order="stroke" stroke-linejoin="round">ALBERTTRAUX</text>
<text x="6.5" y="641" text-anchor="end" font-family="Liberation Sans, Arial, sans-serif" font-weight="bold" font-size="14.8" fill="#fafafa" stroke="#242424" stroke-width="2.3" paint-order="stroke" stroke-linejoin="round">MI</text>
<text x="63.5" y="641" text-anchor="end" font-family="Liberation Sans, Arial, sans-serif" font-weight="bold" font-size="14.8" fill="#fafafa" stroke="#242424" stroke-width="2.3" paint-order="stroke" stroke-linejoin="round">TRAUX</text>
<path d="M-18.75,610.00 L6.75,610.00 L14.35,617.90 L14.35,621.00 L14.35,621.00 A4.15,4.00 0 0 1 6.05,621.00 L6.05,621.00 A4.02,4.00 0 0 1 -2.00,621.00 L-2.00,621.00 A4.00,4.00 0 0 1 -10.00,621.00 L-10.00,621.00 A4.03,4.00 0 0 1 -18.05,621.00 L-18.05,621.00 A4.15,4.00 0 0 1 -26.35,621.00 L-26.35,617.90 ZM-23.55,626.10 L10.75,626.10 L10.75,647.40 L-23.55,647.40 Z M-19.85,628.70 L-19.85,642.30 L7.45,642.30 L7.45,628.70 Z" fill="none" stroke="#b9c3cd" stroke-opacity=".8" stroke-width="2.2" stroke-linejoin="round"/><path d="M-18.75,610.00 L6.75,610.00 L14.35,617.90 L14.35,621.00 L14.35,621.00 A4.15,4.00 0 0 1 6.05,621.00 L6.05,621.00 A4.02,4.00 0 0 1 -2.00,621.00 L-2.00,621.00 A4.00,4.00 0 0 1 -10.00,621.00 L-10.00,621.00 A4.03,4.00 0 0 1 -18.05,621.00 L-18.05,621.00 A4.15,4.00 0 0 1 -26.35,621.00 L-26.35,617.90 Z" fill="#9aa6b2"/><path d="M-18.75,610.00 L-14.20,610.00 L-18.85,621.00 A3.75,4.00 0 0 1 -26.35,621.00 L-26.35,617.90 Z M-13.30,610.00 L-9.20,610.00 L-10.80,621.00 A3.22,4.00 0 0 1 -17.25,621.00 Z M-8.30,610.00 L-3.70,610.00 L-2.80,621.00 A3.20,4.00 0 0 1 -9.20,621.00 Z M-2.80,610.00 L1.30,610.00 L5.25,621.00 A3.22,4.00 0 0 1 -1.20,621.00 Z M2.20,610.00 L6.75,610.00 L14.35,617.90 L14.35,621.00 A3.75,4.00 0 0 1 6.85,621.00 Z " fill="#2e3742"/><path d="M-23.55,626.10 L10.75,626.10 L10.75,647.40 L-23.55,647.40 Z M-19.85,628.70 L-19.85,642.30 L7.45,642.30 L7.45,628.70 Z" fill="#2e3742" fill-rule="evenodd"/><path d="M-19.15,629.40 L-19.15,641.60 L6.75,641.60 L6.75,629.40 Z" fill="none" stroke="#dfe5ea" stroke-width="1.2"/>
<text x="108" y="661" text-anchor="end" font-family="Liberation Sans, Arial, sans-serif" font-weight="bold" font-size="14.8" fill="#fafafa" stroke="#242424" stroke-width="2.3" paint-order="stroke" stroke-linejoin="round">RAMOS (ALVAREZ)</text>
<text x="136" y="681.4" text-anchor="end" font-family="Liberation Sans, Arial, sans-serif" font-weight="bold" font-size="14.8" fill="#fafafa" stroke="#242424" stroke-width="2.3" paint-order="stroke" stroke-linejoin="round">DOCA (SAN MARTIN)</text>
<path d="M77.85,654.30 L103.35,654.30 L110.95,662.20 L110.95,665.30 L110.95,665.30 A4.15,4.00 0 0 1 102.65,665.30 L102.65,665.30 A4.02,4.00 0 0 1 94.60,665.30 L94.60,665.30 A4.00,4.00 0 0 1 86.60,665.30 L86.60,665.30 A4.03,4.00 0 0 1 78.55,665.30 L78.55,665.30 A4.15,4.00 0 0 1 70.25,665.30 L70.25,662.20 ZM73.05,670.40 L107.35,670.40 L107.35,691.70 L73.05,691.70 Z M76.75,673.00 L76.75,686.60 L104.05,686.60 L104.05,673.00 Z" fill="none" stroke="#b9c3cd" stroke-opacity=".8" stroke-width="2.2" stroke-linejoin="round"/><path d="M77.85,654.30 L103.35,654.30 L110.95,662.20 L110.95,665.30 L110.95,665.30 A4.15,4.00 0 0 1 102.65,665.30 L102.65,665.30 A4.02,4.00 0 0 1 94.60,665.30 L94.60,665.30 A4.00,4.00 0 0 1 86.60,665.30 L86.60,665.30 A4.03,4.00 0 0 1 78.55,665.30 L78.55,665.30 A4.15,4.00 0 0 1 70.25,665.30 L70.25,662.20 Z" fill="#9aa6b2"/><path d="M77.85,654.30 L82.40,654.30 L77.75,665.30 A3.75,4.00 0 0 1 70.25,665.30 L70.25,662.20 Z M83.30,654.30 L87.40,654.30 L85.80,665.30 A3.22,4.00 0 0 1 79.35,665.30 Z M88.30,654.30 L92.90,654.30 L93.80,665.30 A3.20,4.00 0 0 1 87.40,665.30 Z M93.80,654.30 L97.90,654.30 L101.85,665.30 A3.22,4.00 0 0 1 95.40,665.30 Z M98.80,654.30 L103.35,654.30 L110.95,662.20 L110.95,665.30 A3.75,4.00 0 0 1 103.45,665.30 Z " fill="#2e3742"/><path d="M73.05,670.40 L107.35,670.40 L107.35,691.70 L73.05,691.70 Z M76.75,673.00 L76.75,686.60 L104.05,686.60 L104.05,673.00 Z" fill="#2e3742" fill-rule="evenodd"/><path d="M77.45,673.70 L77.45,685.90 L103.35,685.90 L103.35,673.70 Z" fill="none" stroke="#dfe5ea" stroke-width="1.2"/>
<path d="M15.85,664.00 L41.35,664.00 L48.95,671.90 L48.95,675.00 L48.95,675.00 A4.15,4.00 0 0 1 40.65,675.00 L40.65,675.00 A4.02,4.00 0 0 1 32.60,675.00 L32.60,675.00 A4.00,4.00 0 0 1 24.60,675.00 L24.60,675.00 A4.03,4.00 0 0 1 16.55,675.00 L16.55,675.00 A4.15,4.00 0 0 1 8.25,675.00 L8.25,671.90 ZM11.05,680.10 L45.35,680.10 L45.35,701.40 L11.05,701.40 Z M14.75,682.70 L14.75,696.30 L42.05,696.30 L42.05,682.70 Z" fill="none" stroke="#b9c3cd" stroke-opacity=".8" stroke-width="2.2" stroke-linejoin="round"/><path d="M15.85,664.00 L41.35,664.00 L48.95,671.90 L48.95,675.00 L48.95,675.00 A4.15,4.00 0 0 1 40.65,675.00 L40.65,675.00 A4.02,4.00 0 0 1 32.60,675.00 L32.60,675.00 A4.00,4.00 0 0 1 24.60,675.00 L24.60,675.00 A4.03,4.00 0 0 1 16.55,675.00 L16.55,675.00 A4.15,4.00 0 0 1 8.25,675.00 L8.25,671.90 Z" fill="#9aa6b2"/><path d="M15.85,664.00 L20.40,664.00 L15.75,675.00 A3.75,4.00 0 0 1 8.25,675.00 L8.25,671.90 Z M21.30,664.00 L25.40,664.00 L23.80,675.00 A3.22,4.00 0 0 1 17.35,675.00 Z M26.30,664.00 L30.90,664.00 L31.80,675.00 A3.20,4.00 0 0 1 25.40,675.00 Z M31.80,664.00 L35.90,664.00 L39.85,675.00 A3.22,4.00 0 0 1 33.40,675.00 Z M36.80,664.00 L41.35,664.00 L48.95,671.90 L48.95,675.00 A3.75,4.00 0 0 1 41.45,675.00 Z " fill="#2e3742"/><path d="M11.05,680.10 L45.35,680.10 L45.35,701.40 L11.05,701.40 Z M14.75,682.70 L14.75,696.30 L42.05,696.30 L42.05,682.70 Z" fill="#2e3742" fill-rule="evenodd"/><path d="M15.45,683.40 L15.45,695.60 L41.35,695.60 L41.35,683.40 Z" fill="none" stroke="#dfe5ea" stroke-width="1.2"/>
<text x="-1" y="702.5" text-anchor="start" font-family="Liberation Sans, Arial, sans-serif" font-weight="bold" font-size="14.8" fill="#fafafa" stroke="#242424" stroke-width="2.3" paint-order="stroke" stroke-linejoin="round">R</text>
<text x="46" y="702.5" text-anchor="start" font-family="Liberation Sans, Arial, sans-serif" font-weight="bold" font-size="14.8" fill="#fafafa" stroke="#242424" stroke-width="2.3" paint-order="stroke" stroke-linejoin="round">LAS MARGARITAS</text>
<text x="98.5" y="713.8" text-anchor="end" font-family="Liberation Sans, Arial, sans-serif" font-weight="bold" font-size="14.8" fill="#fafafa" stroke="#242424" stroke-width="2.3" paint-order="stroke" stroke-linejoin="round">JO Y ZANETTI</text>
<path d="M151.85,690.10 L177.35,690.10 L184.95,698.00 L184.95,701.10 L184.95,701.10 A4.15,4.00 0 0 1 176.65,701.10 L176.65,701.10 A4.02,4.00 0 0 1 168.60,701.10 L168.60,701.10 A4.00,4.00 0 0 1 160.60,701.10 L160.60,701.10 A4.03,4.00 0 0 1 152.55,701.10 L152.55,701.10 A4.15,4.00 0 0 1 144.25,701.10 L144.25,698.00 ZM147.05,706.20 L181.35,706.20 L181.35,727.50 L147.05,727.50 Z M150.75,708.80 L150.75,722.40 L178.05,722.40 L178.05,708.80 Z" fill="none" stroke="#b9c3cd" stroke-opacity=".8" stroke-width="2.2" stroke-linejoin="round"/><path d="M151.85,690.10 L177.35,690.10 L184.95,698.00 L184.95,701.10 L184.95,701.10 A4.15,4.00 0 0 1 176.65,701.10 L176.65,701.10 A4.02,4.00 0 0 1 168.60,701.10 L168.60,701.10 A4.00,4.00 0 0 1 160.60,701.10 L160.60,701.10 A4.03,4.00 0 0 1 152.55,701.10 L152.55,701.10 A4.15,4.00 0 0 1 144.25,701.10 L144.25,698.00 Z" fill="#9aa6b2"/><path d="M151.85,690.10 L156.40,690.10 L151.75,701.10 A3.75,4.00 0 0 1 144.25,701.10 L144.25,698.00 Z M157.30,690.10 L161.40,690.10 L159.80,701.10 A3.22,4.00 0 0 1 153.35,701.10 Z M162.30,690.10 L166.90,690.10 L167.80,701.10 A3.20,4.00 0 0 1 161.40,701.10 Z M167.80,690.10 L171.90,690.10 L175.85,701.10 A3.22,4.00 0 0 1 169.40,701.10 Z M172.80,690.10 L177.35,690.10 L184.95,698.00 L184.95,701.10 A3.75,4.00 0 0 1 177.45,701.10 Z " fill="#2e3742"/><path d="M147.05,706.20 L181.35,706.20 L181.35,727.50 L147.05,727.50 Z M150.75,708.80 L150.75,722.40 L178.05,722.40 L178.05,708.80 Z" fill="#2e3742" fill-rule="evenodd"/><path d="M151.45,709.50 L151.45,721.70 L177.35,721.70 L177.35,709.50 Z" fill="none" stroke="#dfe5ea" stroke-width="1.2"/>
<text x="100" y="739.8" text-anchor="start" font-family="Liberation Sans, Arial, sans-serif" font-weight="bold" font-size="14.8" fill="#fafafa" stroke="#242424" stroke-width="2.3" paint-order="stroke" stroke-linejoin="round">R.50 Y LAMADRID</text>
<path d="M130.45,704.00 L155.95,704.00 L163.55,711.90 L163.55,715.00 L163.55,715.00 A4.15,4.00 0 0 1 155.25,715.00 L155.25,715.00 A4.02,4.00 0 0 1 147.20,715.00 L147.20,715.00 A4.00,4.00 0 0 1 139.20,715.00 L139.20,715.00 A4.03,4.00 0 0 1 131.15,715.00 L131.15,715.00 A4.15,4.00 0 0 1 122.85,715.00 L122.85,711.90 ZM125.65,720.10 L159.95,720.10 L159.95,741.40 L125.65,741.40 Z M129.35,722.70 L129.35,736.30 L156.65,736.30 L156.65,722.70 Z" fill="none" stroke="#b9c3cd" stroke-opacity=".8" stroke-width="2.2" stroke-linejoin="round"/><path d="M130.45,704.00 L155.95,704.00 L163.55,711.90 L163.55,715.00 L163.55,715.00 A4.15,4.00 0 0 1 155.25,715.00 L155.25,715.00 A4.02,4.00 0 0 1 147.20,715.00 L147.20,715.00 A4.00,4.00 0 0 1 139.20,715.00 L139.20,715.00 A4.03,4.00 0 0 1 131.15,715.00 L131.15,715.00 A4.15,4.00 0 0 1 122.85,715.00 L122.85,711.90 Z" fill="#9aa6b2"/><path d="M130.45,704.00 L135.00,704.00 L130.35,715.00 A3.75,4.00 0 0 1 122.85,715.00 L122.85,711.90 Z M135.90,704.00 L140.00,704.00 L138.40,715.00 A3.22,4.00 0 0 1 131.95,715.00 Z M140.90,704.00 L145.50,704.00 L146.40,715.00 A3.20,4.00 0 0 1 140.00,715.00 Z M146.40,704.00 L150.50,704.00 L154.45,715.00 A3.22,4.00 0 0 1 148.00,715.00 Z M151.40,704.00 L155.95,704.00 L163.55,711.90 L163.55,715.00 A3.75,4.00 0 0 1 156.05,715.00 Z " fill="#2e3742"/><path d="M125.65,720.10 L159.95,720.10 L159.95,741.40 L125.65,741.40 Z M129.35,722.70 L129.35,736.30 L156.65,736.30 L156.65,722.70 Z" fill="#2e3742" fill-rule="evenodd"/><path d="M130.05,723.40 L130.05,735.60 L155.95,735.60 L155.95,723.40 Z" fill="none" stroke="#dfe5ea" stroke-width="1.2"/>
<text x="244.5" y="754.5" text-anchor="end" font-family="Liberation Sans, Arial, sans-serif" font-weight="bold" font-size="14.8" fill="#fafafa" stroke="#242424" stroke-width="2.3" paint-order="stroke" stroke-linejoin="round">CARRIL VIEJO Y LAMADRID</text>
<text x="107.5" y="841.2" text-anchor="end" font-family="Liberation Sans, Arial, sans-serif" font-weight="bold" font-size="14.8" fill="#fafafa" stroke="#242424" stroke-width="2.3" paint-order="stroke" stroke-linejoin="round">FINCA PIPERTO</text>
<path d="M12.25,791.30 L37.75,791.30 L45.35,799.20 L45.35,802.30 L45.35,802.30 A4.15,4.00 0 0 1 37.05,802.30 L37.05,802.30 A4.02,4.00 0 0 1 29.00,802.30 L29.00,802.30 A4.00,4.00 0 0 1 21.00,802.30 L21.00,802.30 A4.03,4.00 0 0 1 12.95,802.30 L12.95,802.30 A4.15,4.00 0 0 1 4.65,802.30 L4.65,799.20 ZM7.45,807.40 L41.75,807.40 L41.75,828.70 L7.45,828.70 Z M11.15,810.00 L11.15,823.60 L38.45,823.60 L38.45,810.00 Z" fill="none" stroke="#b9c3cd" stroke-opacity=".8" stroke-width="2.2" stroke-linejoin="round"/><path d="M12.25,791.30 L37.75,791.30 L45.35,799.20 L45.35,802.30 L45.35,802.30 A4.15,4.00 0 0 1 37.05,802.30 L37.05,802.30 A4.02,4.00 0 0 1 29.00,802.30 L29.00,802.30 A4.00,4.00 0 0 1 21.00,802.30 L21.00,802.30 A4.03,4.00 0 0 1 12.95,802.30 L12.95,802.30 A4.15,4.00 0 0 1 4.65,802.30 L4.65,799.20 Z" fill="#9aa6b2"/><path d="M12.25,791.30 L16.80,791.30 L12.15,802.30 A3.75,4.00 0 0 1 4.65,802.30 L4.65,799.20 Z M17.70,791.30 L21.80,791.30 L20.20,802.30 A3.22,4.00 0 0 1 13.75,802.30 Z M22.70,791.30 L27.30,791.30 L28.20,802.30 A3.20,4.00 0 0 1 21.80,802.30 Z M28.20,791.30 L32.30,791.30 L36.25,802.30 A3.22,4.00 0 0 1 29.80,802.30 Z M33.20,791.30 L37.75,791.30 L45.35,799.20 L45.35,802.30 A3.75,4.00 0 0 1 37.85,802.30 Z " fill="#2e3742"/><path d="M7.45,807.40 L41.75,807.40 L41.75,828.70 L7.45,828.70 Z M11.15,810.00 L11.15,823.60 L38.45,823.60 L38.45,810.00 Z" fill="#2e3742" fill-rule="evenodd"/><path d="M11.85,810.70 L11.85,822.90 L37.75,822.90 L37.75,810.70 Z" fill="none" stroke="#dfe5ea" stroke-width="1.2"/>
<path d="M16.75,804.40 L42.25,804.40 L49.85,812.30 L49.85,815.40 L49.85,815.40 A4.15,4.00 0 0 1 41.55,815.40 L41.55,815.40 A4.02,4.00 0 0 1 33.50,815.40 L33.50,815.40 A4.00,4.00 0 0 1 25.50,815.40 L25.50,815.40 A4.03,4.00 0 0 1 17.45,815.40 L17.45,815.40 A4.15,4.00 0 0 1 9.15,815.40 L9.15,812.30 ZM11.95,820.50 L46.25,820.50 L46.25,841.80 L11.95,841.80 Z M15.65,823.10 L15.65,836.70 L42.95,836.70 L42.95,823.10 Z" fill="none" stroke="#b9c3cd" stroke-opacity=".8" stroke-width="2.2" stroke-linejoin="round"/><path d="M16.75,804.40 L42.25,804.40 L49.85,812.30 L49.85,815.40 L49.85,815.40 A4.15,4.00 0 0 1 41.55,815.40 L41.55,815.40 A4.02,4.00 0 0 1 33.50,815.40 L33.50,815.40 A4.00,4.00 0 0 1 25.50,815.40 L25.50,815.40 A4.03,4.00 0 0 1 17.45,815.40 L17.45,815.40 A4.15,4.00 0 0 1 9.15,815.40 L9.15,812.30 Z" fill="#9aa6b2"/><path d="M16.75,804.40 L21.30,804.40 L16.65,815.40 A3.75,4.00 0 0 1 9.15,815.40 L9.15,812.30 Z M22.20,804.40 L26.30,804.40 L24.70,815.40 A3.22,4.00 0 0 1 18.25,815.40 Z M27.20,804.40 L31.80,804.40 L32.70,815.40 A3.20,4.00 0 0 1 26.30,815.40 Z M32.70,804.40 L36.80,804.40 L40.75,815.40 A3.22,4.00 0 0 1 34.30,815.40 Z M37.70,804.40 L42.25,804.40 L49.85,812.30 L49.85,815.40 A3.75,4.00 0 0 1 42.35,815.40 Z " fill="#2e3742"/><path d="M11.95,820.50 L46.25,820.50 L46.25,841.80 L11.95,841.80 Z M15.65,823.10 L15.65,836.70 L42.95,836.70 L42.95,823.10 Z" fill="#2e3742" fill-rule="evenodd"/><path d="M16.35,823.80 L16.35,836.00 L42.25,836.00 L42.25,823.80 Z" fill="none" stroke="#dfe5ea" stroke-width="1.2"/>
<text x="-3" y="855.8" text-anchor="start" font-family="Liberation Sans, Arial, sans-serif" font-weight="bold" font-size="14.8" fill="#fafafa" stroke="#242424" stroke-width="2.3" paint-order="stroke" stroke-linejoin="round">EDELA Y R.60</text>
<path d="M79.75,839.60 L105.25,839.60 L112.85,847.50 L112.85,850.60 L112.85,850.60 A4.15,4.00 0 0 1 104.55,850.60 L104.55,850.60 A4.02,4.00 0 0 1 96.50,850.60 L96.50,850.60 A4.00,4.00 0 0 1 88.50,850.60 L88.50,850.60 A4.03,4.00 0 0 1 80.45,850.60 L80.45,850.60 A4.15,4.00 0 0 1 72.15,850.60 L72.15,847.50 ZM74.95,855.70 L109.25,855.70 L109.25,877.00 L74.95,877.00 Z M78.65,858.30 L78.65,871.90 L105.95,871.90 L105.95,858.30 Z" fill="none" stroke="#b9c3cd" stroke-opacity=".8" stroke-width="2.2" stroke-linejoin="round"/><path d="M79.75,839.60 L105.25,839.60 L112.85,847.50 L112.85,850.60 L112.85,850.60 A4.15,4.00 0 0 1 104.55,850.60 L104.55,850.60 A4.02,4.00 0 0 1 96.50,850.60 L96.50,850.60 A4.00,4.00 0 0 1 88.50,850.60 L88.50,850.60 A4.03,4.00 0 0 1 80.45,850.60 L80.45,850.60 A4.15,4.00 0 0 1 72.15,850.60 L72.15,847.50 Z" fill="#9aa6b2"/><path d="M79.75,839.60 L84.30,839.60 L79.65,850.60 A3.75,4.00 0 0 1 72.15,850.60 L72.15,847.50 Z M85.20,839.60 L89.30,839.60 L87.70,850.60 A3.22,4.00 0 0 1 81.25,850.60 Z M90.20,839.60 L94.80,839.60 L95.70,850.60 A3.20,4.00 0 0 1 89.30,850.60 Z M95.70,839.60 L99.80,839.60 L103.75,850.60 A3.22,4.00 0 0 1 97.30,850.60 Z M100.70,839.60 L105.25,839.60 L112.85,847.50 L112.85,850.60 A3.75,4.00 0 0 1 105.35,850.60 Z " fill="#2e3742"/><path d="M74.95,855.70 L109.25,855.70 L109.25,877.00 L74.95,877.00 Z M78.65,858.30 L78.65,871.90 L105.95,871.90 L105.95,858.30 Z" fill="#2e3742" fill-rule="evenodd"/><path d="M79.35,859.00 L79.35,871.20 L105.25,871.20 L105.25,859.00 Z" fill="none" stroke="#dfe5ea" stroke-width="1.2"/>
<text x="92.4" y="891.5" text-anchor="middle" font-family="Liberation Sans, Arial, sans-serif" font-weight="bold" font-size="14.8" fill="#fafafa" stroke="#242424" stroke-width="2.3" paint-order="stroke" stroke-linejoin="round">LA COSTA Y R.60</text>
<path d="M169.25,870.50 L194.75,870.50 L202.35,878.40 L202.35,881.50 L202.35,881.50 A4.15,4.00 0 0 1 194.05,881.50 L194.05,881.50 A4.02,4.00 0 0 1 186.00,881.50 L186.00,881.50 A4.00,4.00 0 0 1 178.00,881.50 L178.00,881.50 A4.03,4.00 0 0 1 169.95,881.50 L169.95,881.50 A4.15,4.00 0 0 1 161.65,881.50 L161.65,878.40 ZM164.45,886.60 L198.75,886.60 L198.75,907.90 L164.45,907.90 Z M168.15,889.20 L168.15,902.80 L195.45,902.80 L195.45,889.20 Z" fill="none" stroke="#b9c3cd" stroke-opacity=".8" stroke-width="2.2" stroke-linejoin="round"/><path d="M169.25,870.50 L194.75,870.50 L202.35,878.40 L202.35,881.50 L202.35,881.50 A4.15,4.00 0 0 1 194.05,881.50 L194.05,881.50 A4.02,4.00 0 0 1 186.00,881.50 L186.00,881.50 A4.00,4.00 0 0 1 178.00,881.50 L178.00,881.50 A4.03,4.00 0 0 1 169.95,881.50 L169.95,881.50 A4.15,4.00 0 0 1 161.65,881.50 L161.65,878.40 Z" fill="#9aa6b2"/><path d="M169.25,870.50 L173.80,870.50 L169.15,881.50 A3.75,4.00 0 0 1 161.65,881.50 L161.65,878.40 Z M174.70,870.50 L178.80,870.50 L177.20,881.50 A3.22,4.00 0 0 1 170.75,881.50 Z M179.70,870.50 L184.30,870.50 L185.20,881.50 A3.20,4.00 0 0 1 178.80,881.50 Z M185.20,870.50 L189.30,870.50 L193.25,881.50 A3.22,4.00 0 0 1 186.80,881.50 Z M190.20,870.50 L194.75,870.50 L202.35,878.40 L202.35,881.50 A3.75,4.00 0 0 1 194.85,881.50 Z " fill="#2e3742"/><path d="M164.45,886.60 L198.75,886.60 L198.75,907.90 L164.45,907.90 Z M168.15,889.20 L168.15,902.80 L195.45,902.80 L195.45,889.20 Z" fill="#2e3742" fill-rule="evenodd"/><path d="M168.85,889.90 L168.85,902.10 L194.75,902.10 L194.75,889.90 Z" fill="none" stroke="#dfe5ea" stroke-width="1.2"/>
<text x="225" y="920.6" text-anchor="end" font-family="Liberation Sans, Arial, sans-serif" font-weight="bold" font-size="14.8" fill="#fafafa" stroke="#242424" stroke-width="2.3" paint-order="stroke" stroke-linejoin="round">ES</text>
<text x="173.3" y="920.6" text-anchor="middle" font-family="Liberation Sans, Arial, sans-serif" font-weight="bold" font-size="14.8" fill="#fafafa" stroke="#242424" stroke-width="2.3" paint-order="stroke" stroke-linejoin="round">B.800-006</text>
<path d="M89.25,926.50 L114.75,926.50 L122.35,934.40 L122.35,937.50 L122.35,937.50 A4.15,4.00 0 0 1 114.05,937.50 L114.05,937.50 A4.02,4.00 0 0 1 106.00,937.50 L106.00,937.50 A4.00,4.00 0 0 1 98.00,937.50 L98.00,937.50 A4.03,4.00 0 0 1 89.95,937.50 L89.95,937.50 A4.15,4.00 0 0 1 81.65,937.50 L81.65,934.40 ZM84.45,942.60 L118.75,942.60 L118.75,963.90 L84.45,963.90 Z M88.15,945.20 L88.15,958.80 L115.45,958.80 L115.45,945.20 Z" fill="none" stroke="#b9c3cd" stroke-opacity=".8" stroke-width="2.2" stroke-linejoin="round"/><path d="M89.25,926.50 L114.75,926.50 L122.35,934.40 L122.35,937.50 L122.35,937.50 A4.15,4.00 0 0 1 114.05,937.50 L114.05,937.50 A4.02,4.00 0 0 1 106.00,937.50 L106.00,937.50 A4.00,4.00 0 0 1 98.00,937.50 L98.00,937.50 A4.03,4.00 0 0 1 89.95,937.50 L89.95,937.50 A4.15,4.00 0 0 1 81.65,937.50 L81.65,934.40 Z" fill="#9aa6b2"/><path d="M89.25,926.50 L93.80,926.50 L89.15,937.50 A3.75,4.00 0 0 1 81.65,937.50 L81.65,934.40 Z M94.70,926.50 L98.80,926.50 L97.20,937.50 A3.22,4.00 0 0 1 90.75,937.50 Z M99.70,926.50 L104.30,926.50 L105.20,937.50 A3.20,4.00 0 0 1 98.80,937.50 Z M105.20,926.50 L109.30,926.50 L113.25,937.50 A3.22,4.00 0 0 1 106.80,937.50 Z M110.20,926.50 L114.75,926.50 L122.35,934.40 L122.35,937.50 A3.75,4.00 0 0 1 114.85,937.50 Z " fill="#2e3742"/><path d="M84.45,942.60 L118.75,942.60 L118.75,963.90 L84.45,963.90 Z M88.15,945.20 L88.15,958.80 L115.45,958.80 L115.45,945.20 Z" fill="#2e3742" fill-rule="evenodd"/><path d="M88.85,945.90 L88.85,958.10 L114.75,958.10 L114.75,945.90 Z" fill="none" stroke="#dfe5ea" stroke-width="1.2"/>
<g transform="translate(180.7,875)">
<path d="M0,30 L-15.5,15.5 A22,22 0 1 1 15.5,15.5 Z" fill="#eea52f"/>
<circle cx="0" cy="0" r="15.8" fill="#fff"/>
<ellipse cx="0" cy="11.5" rx="8" ry="2.2" fill="#5d636a"/>
<rect x="-12.5" y="-4" width="3" height="7" fill="#6d747b"/><rect x="9.5" y="-4" width="3" height="7" fill="#6d747b"/>
<rect x="-9.5" y="-11" width="19" height="21.5" rx="3" fill="#7cc22a"/>
<rect x="-7" y="-9.5" width="14" height="2" fill="#b9e37f"/>
<rect x="-7.2" y="-5.5" width="14.4" height="6.5" rx="1" fill="#4b5056"/>
<rect x="-5.5" y="-3.8" width="11" height="1.6" fill="#8b9198"/>
<circle cx="-5.5" cy="5.3" r="1.2" fill="#e9f5d8"/><circle cx="5.5" cy="5.3" r="1.2" fill="#e9f5d8"/>
<rect x="-12.5" y="-7" width="2.2" height="5" fill="#7cc22a"/><rect x="10.3" y="-7" width="2.2" height="5" fill="#7cc22a"/>
</g></g></svg>
</div>
<div id="topbar"><svg width="695" height="25" style="position:absolute;left:0;top:0">
<path d="M415.5,0 H439.7 L441.8,7 H413 Z" fill="#fff"/>
<rect x="522" y="0" width="1.6" height="2.3" fill="#fff"/>
<path d="M589.5,-1 H611.7 L613.5,3 A12.8,3.6 0 0 1 588.2,3 Z" fill="#fff"/>
<ellipse cx="601.3" cy="3.7" rx="10.3" ry="1.9" fill="#7a001f"/>
<rect x="599" y="3" width="4.5" height="2.2" fill="#fff" opacity=".8"/>
<rect x="646" y="2" width="35" height="5" fill="#fff"/>
</svg></div>
<div id="panel">
  <div id="phead">RESUMEN DE CUESTIONARIO</div>
  <div id="pline"></div>
  <div id="pbody">
<div style="position:absolute;left:234px;top:258px;font-size:20px;color:rgba(0,0,0,.013);white-space:nowrap">Tres Porteñas</div>
<svg width="329" height="824" style="position:absolute;left:0;top:0"><circle cx="87.5" cy="-26.7" r="63" fill="#ff0000" stroke="#9a9a9a" stroke-width=".6"/><circle cx="87.5" cy="143.3" r="63" fill="#ff0000" stroke="#9a9a9a" stroke-width=".6"/><circle cx="87.5" cy="313.3" r="63" fill="#ff0000" stroke="#9a9a9a" stroke-width=".6"/><path d="M87.5,313.3 L87.5,251.00 A62.3,62.3 0 0 1 146.75,294.05 Z" fill="#ffc000" stroke="#8c7a40" stroke-width=".6"/><circle cx="87.5" cy="483.3" r="63" fill="#ff0000" stroke="#9a9a9a" stroke-width=".6"/><path d="M87.5,483.3 L87.5,421.00 A62.3,62.3 0 0 1 146.75,464.05 Z" fill="#ffc000" stroke="#8c7a40" stroke-width=".6"/><circle cx="87.5" cy="653.3" r="63" fill="#ff0000" stroke="#9a9a9a" stroke-width=".6"/><path d="M87.5,653.3 L87.5,591.00 A62.3,62.3 0 0 1 146.75,634.05 Z" fill="#ffc000" stroke="#8c7a40" stroke-width=".6"/></svg>
<div class="ttl" style="top:51px">CONDUCCION</div>
<div class="lg" style="top:94px"><span class="sq" style="background:#ff0000"></span>BUENA</div>
<div class="ttl" style="top:221px">COLOBORACION CON LA EMPRESA</div>
<div class="lg" style="top:264px"><span class="sq" style="background:#ff0000"></span>BUENA</div>
<div class="lg" style="top:289px"><span class="sq" style="background:#ffc000"></span>REGULAR</div>
<div class="ttl" style="top:391px">LIMPIEZA DE LA UNIDAD A CARGO</div>
<div class="lg" style="top:434px"><span class="sq" style="background:#ff0000"></span>BUENA</div>
<div class="lg" style="top:459px"><span class="sq" style="background:#ffc000"></span>REGULAR</div>
<div class="ttl" style="top:561px">PRESENCIA DEL CONDUCTOR</div>
<div class="lg" style="top:604px"><span class="sq" style="background:#ff0000"></span>BUENA</div>
<div class="lg" style="top:629px"><span class="sq" style="background:#ffc000"></span>MUY BUENA</div>
<div id="btn">Descargar como Microsoft Excel (.xlsx)</div>
  </div>
  <div id="sb"><div id="thumb"></div>
<svg width="15" height="824" style="position:absolute;left:0;top:0"><path d="M4,10 L7.5,6 L11,10 Z" fill="#505050"/><path d="M4,814 L7.5,818 L11,814 Z" fill="#a3a3a3"/></svg></div>
  <div id="sep"></div>
  <div id="foot"><div style="position:absolute;left:60px;top:9px;font-size:16px;color:rgba(0,0,0,.012);white-space:nowrap">Colonia</div><svg width="344" height="59" style="position:absolute;left:0;top:0">
<circle cx="34" cy="30" r="13.5" fill="none" stroke="#aab5c3" stroke-width="2"/>
<path d="M27,30 H42.5 M32,25.5 L27,30 L32,34.5" fill="none" stroke="#aab5c3" stroke-width="2"/>
<circle cx="310" cy="31" r="14.1" fill="#a6b1be"/>
<path d="M305.2,28 C305.2,21.3 315.3,21 315.3,27 C315.3,30.5 310,31 310,35.7" fill="none" stroke="#fff" stroke-width="2.1"/>
<rect x="308.6" y="37.9" width="2.7" height="2.6" fill="#fff"/>
</svg></div>
</div>
<svg width="30" height="12" style="position:absolute;left:648px;top:9px"><path d="M4.2,10.5 L14.6,0.6 L25,10.5" fill="#474747" stroke="#b7cbce" stroke-width="1"/><rect x="4.5" y="10" width="20" height="2" fill="#474747"/></svg>
</body></html>
